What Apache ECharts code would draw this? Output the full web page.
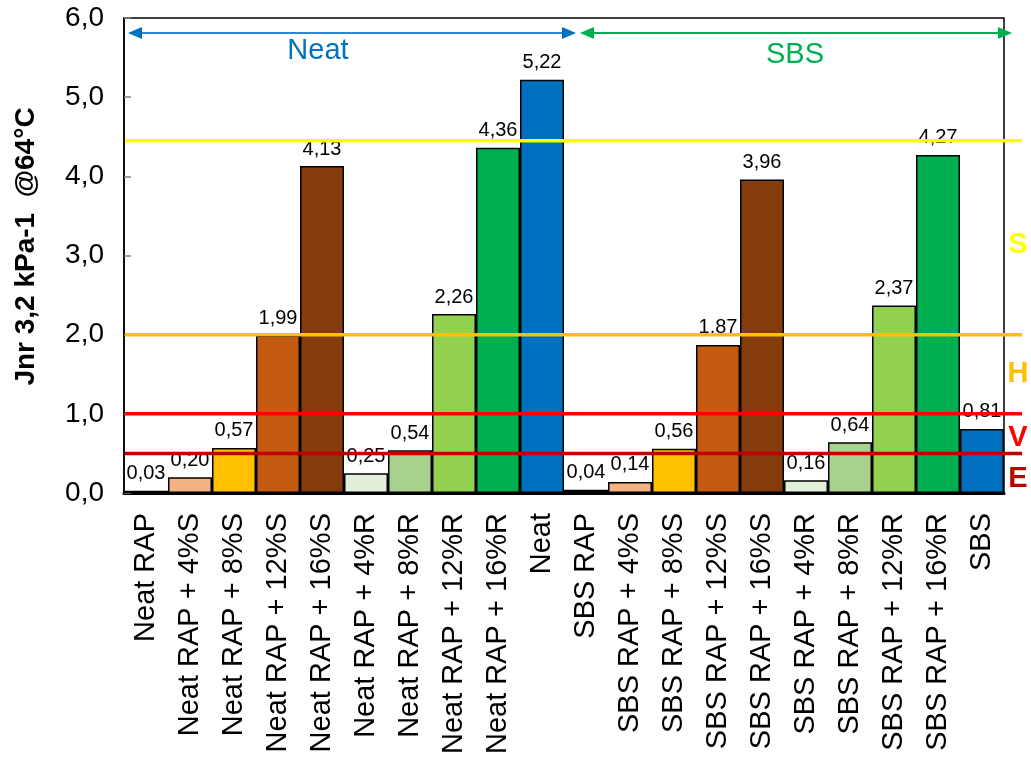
<!DOCTYPE html>
<html>
<head>
<meta charset="utf-8">
<script src="https://cdn.jsdelivr.net/npm/echarts@6/dist/echarts.min.js"></script>
<style>
  html, body { margin: 0; padding: 0; background: #fff; }
  #chart { width: 1031px; height: 758px; }
</style>
</head>
<body>
<div id="chart"></div>
<script>
// Binder groups and RAP blends
const categories = [
  'Neat RAP', 'Neat RAP + 4%S', 'Neat RAP + 8%S', 'Neat RAP + 12%S', 'Neat RAP + 16%S',
  'Neat RAP + 4%R', 'Neat RAP + 8%R', 'Neat RAP + 12%R', 'Neat RAP + 16%R', 'Neat',
  'SBS RAP', 'SBS RAP + 4%S', 'SBS RAP + 8%S', 'SBS RAP + 12%S', 'SBS RAP + 16%S',
  'SBS RAP + 4%R', 'SBS RAP + 8%R', 'SBS RAP + 12%R', 'SBS RAP + 16%R', 'SBS'
];

// Jnr 3.2 (kPa^-1) at 64 °C
const jnrValues = [
  0.03, 0.20, 0.57, 1.99, 4.13, 0.25, 0.54, 2.26, 4.36, 5.22,
  0.04, 0.14, 0.56, 1.87, 3.96, 0.16, 0.64, 2.37, 4.27, 0.81
];

const barColors = [
  '#000000', '#F4B183', '#FFC000', '#C55A11', '#843C0C',
  '#E2EFDA', '#A9D18E', '#92D050', '#00B050', '#0070C0',
  '#000000', '#F4B183', '#FFC000', '#C55A11', '#843C0C',
  '#E2EFDA', '#A9D18E', '#92D050', '#00B050', '#0070C0'
];

// MSCR traffic grade limits (S, H, V, E)
const gradeLimits = [4.45, 2.0, 1.0, 0.5];
const gradeLetters = ['S', 'H', 'V', 'E'];
const gradeColors = ['#FFFF00', '#FFC000', '#FF0000', '#C00000'];

// Binder group spans (first and last category index)
const groupNames = ['Neat', 'SBS'];
const groupSpans = [[0, 9], [10, 19]];
const groupColors = ['#0070C0', '#00B050'];
const groupLineColors = ['#2E86D0', '#00B050'];

const yMin = 0, yMax = 6, yStep = 1;
const FONT = '"Liberation Sans", Arial, Helvetica, sans-serif';
const fmt = v => v.toFixed(2).replace('.', ',');

const chart = echarts.init(document.getElementById('chart'), null, { renderer: 'canvas' });

chart.setOption({
  animation: false,
  backgroundColor: '#fff',
  textStyle: { fontFamily: FONT },
  grid: {
    left: 124, right: 27, top: 18, bottom: 265,
    outerBoundsMode: 'none',
    show: true, borderColor: '#000', borderWidth: 1.5, backgroundColor: 'transparent'
  },
  xAxis: {
    type: 'category',
    data: categories,
    axisLine: { show: true, lineStyle: { color: '#000', width: 3 } },
    axisTick: { show: false },
    axisLabel: {
      interval: 0, rotate: 90, margin: 20,
      fontSize: 29, color: '#000', fontFamily: FONT
    }
  },
  yAxis: {
    type: 'value',
    min: yMin, max: yMax, interval: yStep,
    name: 'Jnr 3,2 kPa-1  @64°C',
    nameLocation: 'middle',
    nameRotate: 90,
    nameGap: 84,
    nameTextStyle: {
      fontSize: 28, fontWeight: 'bold', color: '#000', fontFamily: FONT,
      padding: [0, 0, 0, 18]
    },
    axisLine: { show: true, lineStyle: { color: '#000', width: 1.5 } },
    axisTick: { show: true, inside: true, length: 7, lineStyle: { color: '#808080', width: 1.5 } },
    splitLine: { show: false },
    axisLabel: {
      fontSize: 28, color: '#000', margin: 20, fontFamily: FONT,
      formatter: v => v.toFixed(1).replace('.', ',')
    }
  },
  series: [{
    type: 'bar',
    barCategoryGap: '0%',
    data: jnrValues.map((v, i) => ({
      value: v,
      itemStyle: { color: barColors[i], borderColor: '#000', borderWidth: 1.5 }
    })),
    label: {
      show: true, position: 'top', distance: 7,
      fontSize: 20, color: '#000', fontFamily: FONT,
      formatter: p => fmt(p.value)
    }
  }]
});

// Grade limit lines, grade letters and binder-group arrows drawn on top of the bars
function drawOverlays() {
  const grid = chart.getModel().getComponent('grid').coordinateSystem.getRect();
  const yPx = v => chart.convertToPixel({ yAxisIndex: 0 }, v);
  const xPx = i => chart.convertToPixel({ xAxisIndex: 0 }, i);
  const half = grid.width / categories.length / 2;
  const elements = [];

  // horizontal grade limits, running slightly past the plot frame
  gradeLimits.forEach((g, i) => {
    const y = yPx(g);
    elements.push({
      type: 'line', z: 100,
      shape: { x1: grid.x + 1, y1: y, x2: grid.x + grid.width + 18, y2: y },
      style: { stroke: gradeColors[i], lineWidth: 3.5 }
    });
  });

  // grade letters in the band each limit defines
  const bands = [[gradeLimits[0], gradeLimits[1]], [gradeLimits[1], gradeLimits[2]],
                 [gradeLimits[2], gradeLimits[3]], [gradeLimits[3], yMin]];
  const letterShift = [7, 0, 4, 6];
  bands.forEach((b, i) => {
    elements.push({
      type: 'text', z: 100,
      x: grid.x + grid.width + 14,
      y: (yPx(b[0]) + yPx(b[1])) / 2 + letterShift[i],
      style: {
        text: gradeLetters[i], fill: gradeColors[i],
        font: 'bold 29px ' + FONT, align: 'center', verticalAlign: 'middle'
      }
    });
  });

  // binder group double-headed arrows
  const arrowY = grid.y + 15;
  const head = 14, hh = 6;
  groupSpans.forEach((s, i) => {
    const x1 = (i === 0 ? grid.x + 4 : xPx(s[0]) - half + 16);
    const x2 = (i === 0 ? xPx(s[1]) + half + 12 : grid.x + grid.width + 8);
    const c = groupColors[i];
    elements.push({
      type: 'line', z: 100,
      shape: { x1: x1 + head - 2, y1: arrowY, x2: x2 - head + 2, y2: arrowY },
      style: { stroke: groupLineColors[i], lineWidth: 2 }
    });
    elements.push({
      type: 'polygon', z: 100,
      shape: { points: [[x1, arrowY], [x1 + head, arrowY - hh], [x1 + head, arrowY + hh]] },
      style: { fill: c }
    });
    elements.push({
      type: 'polygon', z: 100,
      shape: { points: [[x2, arrowY], [x2 - head, arrowY - hh], [x2 - head, arrowY + hh]] },
      style: { fill: c }
    });
  });
  // group titles
  elements.push({
    type: 'text', z: 100, x: 318, y: arrowY + 18,
    style: { text: groupNames[0], fill: groupColors[0], font: '29px ' + FONT,
             align: 'center', verticalAlign: 'middle' }
  });
  elements.push({
    type: 'text', z: 100, x: 795, y: arrowY + 22,
    style: { text: groupNames[1], fill: groupColors[1], font: '29px ' + FONT,
             align: 'center', verticalAlign: 'middle' }
  });

  chart.setOption({ graphic: { elements } });
}

drawOverlays();
</script>
</body>
</html>
